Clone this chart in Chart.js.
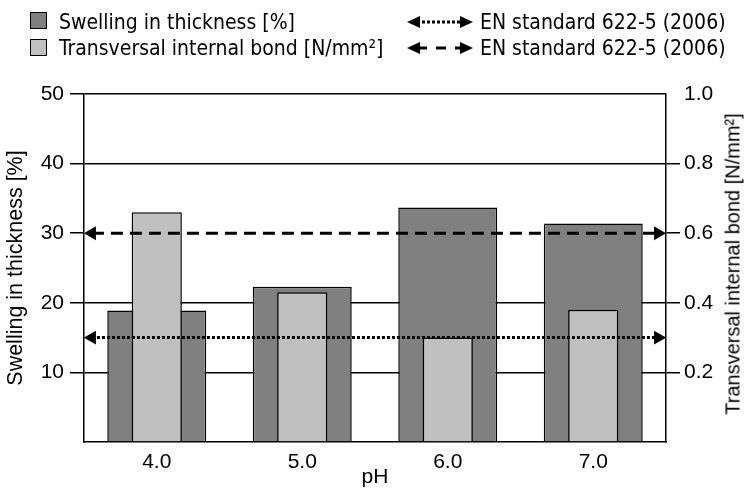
<!DOCTYPE html>
<html>
<head>
<meta charset="utf-8">
<script src="https://cdn.jsdelivr.net/npm/chart.js@4.4.1/dist/chart.umd.min.js"></script>
<style>
  html, body { margin: 0; padding: 0; background: #fff; }
  #wrap { position: relative; width: 748px; height: 490px; }
  #chart { position: absolute; left: 0; top: 0; }
  .leg { position: absolute; font-family: "DejaVu Sans Condensed", "DejaVu Sans", sans-serif; font-stretch: condensed; font-size: 21px; color: #000; line-height: 24px; white-space: nowrap; }
  .box { position: absolute; width: 15px; height: 15px; border: 1.5px solid #000; }
  .arr { position: absolute; }
  #y2title { position: absolute; left: 733px; top: 264px; transform: translate(-50%, -50%) rotate(-90deg);
             font-family: "Liberation Sans", Arial, sans-serif; font-size: 20px; white-space: nowrap; color: #000; }
</style>
</head>
<body>
<div id="wrap">
  <canvas id="chart" width="748" height="490"></canvas>
  <!-- legenda -->
  <div class="box" style="left:30px; top:12px; background:#808080"></div>
  <div class="leg" style="left:59px; top:10px">Swelling in thickness [%]</div>
  <div class="box" style="left:30px; top:39px; background:#c0c0c0"></div>
  <div class="leg" style="left:59px; top:36px">Transversal internal bond [N/mm²]</div>
  <svg class="arr" style="left:405px; top:13px" width="70" height="18">
    <line x1="12" y1="9" x2="58" y2="9" stroke="#000" stroke-width="3" stroke-dasharray="3,2"/>
    <polygon points="2,9 15,3 15,15" fill="#000"/>
    <polygon points="68,9 55,3 55,15" fill="#000"/>
  </svg>
  <div class="leg" style="left:480px; top:10px">EN standard 622-5 (2006)</div>
  <svg class="arr" style="left:405px; top:39px" width="70" height="18">
    <line x1="12" y1="9" x2="58" y2="9" stroke="#000" stroke-width="3" stroke-dasharray="10,9"/>
    <polygon points="2,9 15,3 15,15" fill="#000"/>
    <polygon points="68,9 55,3 55,15" fill="#000"/>
  </svg>
  <div class="leg" style="left:480px; top:36px">EN standard 622-5 (2006)</div>
  <div id="y2title">Transversal internal bond [N/mm²]</div>
</div>
<script>
// data
const phLabels = ['4.0', '5.0', '6.0', '7.0'];
const swelling = [18.9, 22.3, 33.7, 31.4];        // Swelling in thickness [%]
const internalBond = [0.66, 0.43, 0.30, 0.38];    // Transversal internal bond [N/mm2]
const swellingLimit = [15, 15];                   // EN 622-5, maks. swelling
const bondLimit = [0.6, 0.6];                     // EN 622-5, min. internal bond
const limitX = [0, 1];

const axisFont = { family: 'Liberation Sans, Arial, sans-serif', size: 21 };

function limitData(vals) {
  return vals.map((v, i) => ({ x: limitX[i], y: v }));
}

const ctx = document.getElementById('chart').getContext('2d');
new Chart(ctx, {
  data: {
    labels: phLabels,
    datasets: [
      {
        type: 'line',
        label: 'EN standard 622-5 (2006)',
        data: limitData(swellingLimit),
        xAxisID: 'x2',
        yAxisID: 'y',
        borderColor: '#000',
        borderWidth: 3,
        borderDash: [3, 2],
        pointStyle: 'triangle',
        pointRadius: 8,
        pointRotation: [-90, 90],
        pointBackgroundColor: '#000',
        pointBorderWidth: 0,
        order: 0
      },
      {
        type: 'line',
        label: 'EN standard 622-5 (2006)',
        data: limitData(bondLimit),
        xAxisID: 'x2',
        yAxisID: 'y2',
        borderColor: '#000',
        borderWidth: 3,
        borderDash: [12, 7],
        pointStyle: 'triangle',
        pointRadius: 8,
        pointRotation: [-90, 90],
        pointBackgroundColor: '#000',
        pointBorderWidth: 0,
        order: 0
      },
      {
        type: 'bar',
        label: 'Transversal internal bond [N/mm²]',
        data: internalBond,
        yAxisID: 'y2',
        backgroundColor: '#c0c0c0',
        borderColor: '#000',
        borderWidth: 1.5,
        grouped: false,
        categoryPercentage: 1,
        barPercentage: 0.345,
        order: 1
      },
      {
        type: 'bar',
        label: 'Swelling in thickness [%]',
        data: swelling,
        yAxisID: 'y',
        backgroundColor: '#808080',
        borderColor: '#000',
        borderWidth: 1.5,
        grouped: false,
        categoryPercentage: 1,
        barPercentage: 0.68,
        order: 2
      }
    ]
  },
  options: {
    responsive: false,
    animation: false,
    layout: { padding: { top: 94, left: 0, right: 0, bottom: 0 } },
    plugins: {
      legend: { display: false },
      tooltip: { enabled: false }
    },
    scales: {
      x: {
        afterFit: s => { s.height = 48; },
        grid: { drawOnChartArea: false, drawTicks: false },
        border: { display: true, color: '#000', width: 1.5 },
        ticks: { color: '#000', font: axisFont, padding: 8 },
        title: { display: true, text: 'pH', color: '#000', font: axisFont, padding: 0 }
      },
      x2: {
        type: 'linear',
        display: false,
        min: -0.014,
        max: 1.014
      },
      y: {
        position: 'left',
        min: 0,
        max: 50,
        afterFit: s => { s.width = 84; },
        ticks: {
          stepSize: 10,
          color: '#000',
          font: axisFont,
          padding: 6,
          callback: v => v === 0 ? '' : v
        },
        grid: {
          color: c => (c.tick && (c.tick.value === 0 || c.tick.value === 30)) ? 'rgba(0,0,0,0)' : '#000',
          tickColor: c => (c.tick && c.tick.value === 0) ? 'rgba(0,0,0,0)' : '#000',
          lineWidth: 1.5,
          tickLength: 14
        },
        border: { display: true, color: '#000', width: 1.5 },
        title: { display: true, text: 'Swelling in thickness [%]', color: '#000', font: { family: axisFont.family, size: 21.5 }, padding: 3 }
      },
      y2: {
        position: 'right',
        min: 0,
        max: 1,
        afterFit: s => { s.width = 82; },
        ticks: {
          stepSize: 0.2,
          color: '#000',
          font: axisFont,
          padding: 4,
          callback: v => v === 0 ? '' : v.toFixed(1)
        },
        grid: {
          drawOnChartArea: false,
          tickColor: c => (c.tick && (c.tick.value === 0 || c.tick.value === 1)) ? 'rgba(0,0,0,0)' : '#000',
          lineWidth: 1.5,
          tickLength: 14
        },
        border: { display: true, color: '#000', width: 1.5 }
      }
    }
  }
});
</script>
</body>
</html>
